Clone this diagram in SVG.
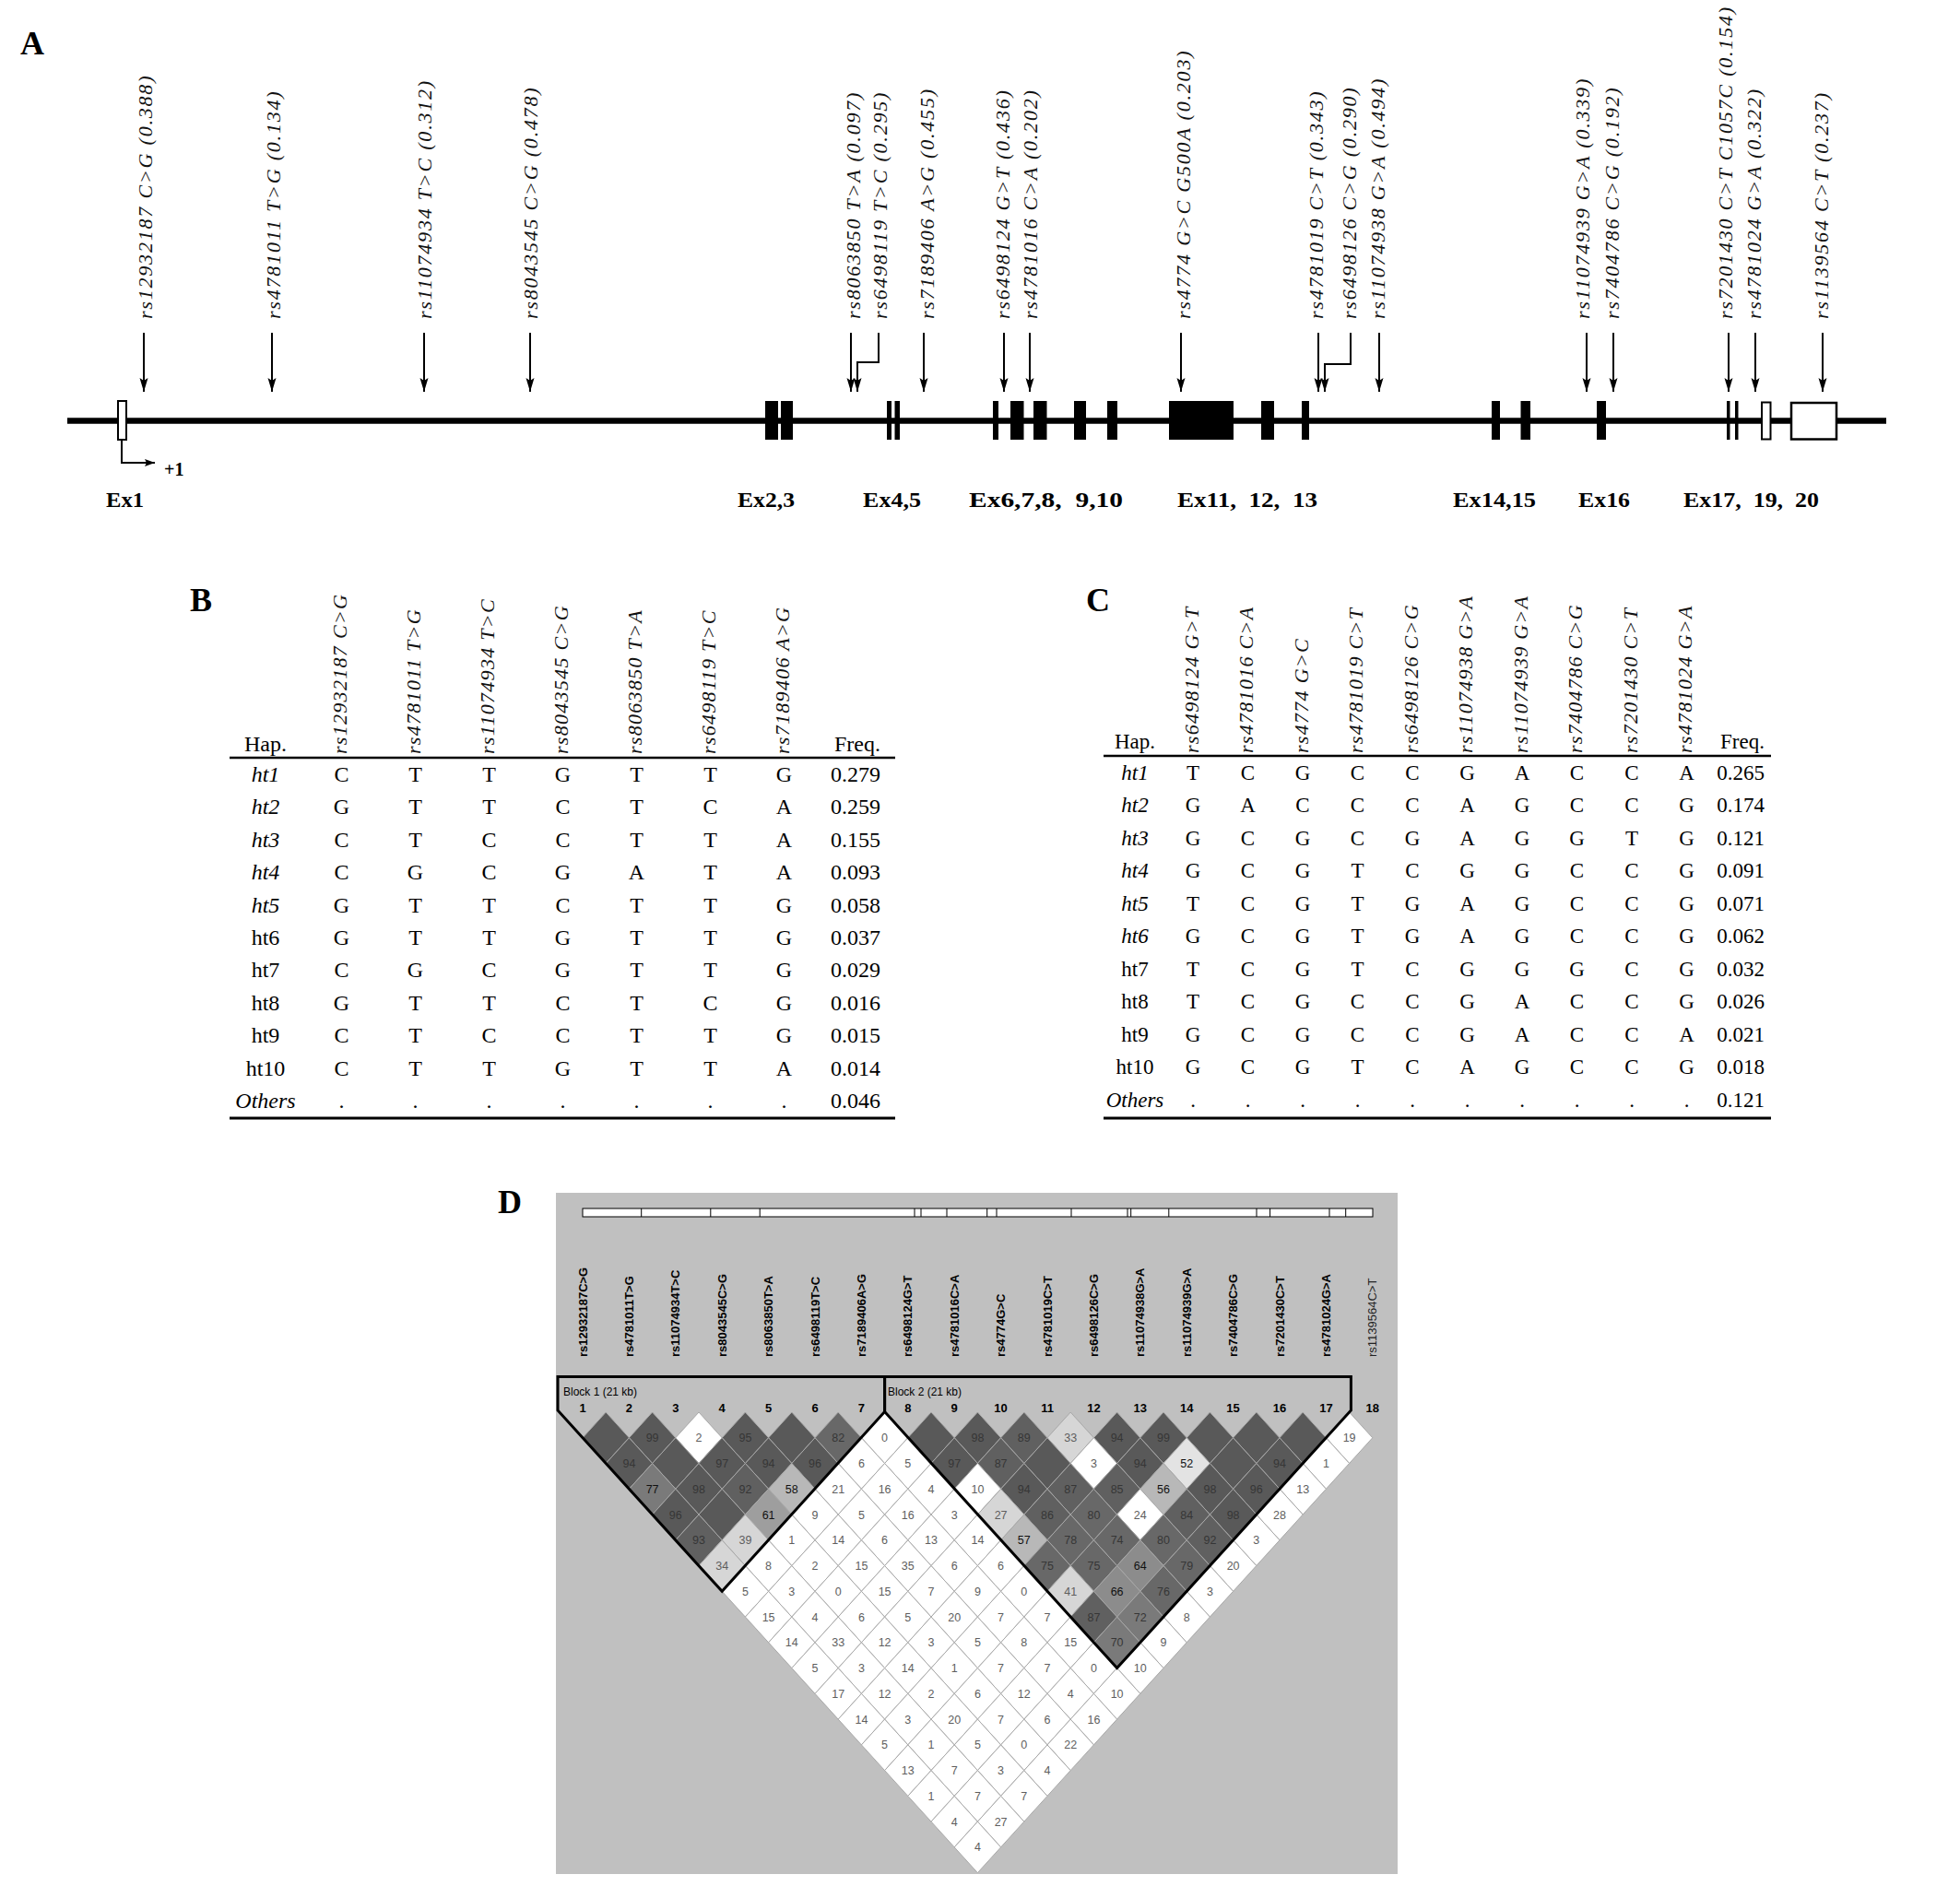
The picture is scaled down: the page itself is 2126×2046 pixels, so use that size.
<svg xmlns="http://www.w3.org/2000/svg" width="2126" height="2046" viewBox="0 0 2126 2046">
<style>
.pl{font-family:"Liberation Serif","Times New Roman",serif;font-weight:bold;font-size:36px;fill:#000}
.ex{font-family:"Liberation Serif","Times New Roman",serif;font-weight:bold;font-size:23px;fill:#000}
.ita{font-family:"Liberation Serif","Times New Roman",serif;font-style:italic;font-size:22px;letter-spacing:1.8px;fill:#111}
.hdr{font-family:"Liberation Serif","Times New Roman",serif;font-style:italic;font-size:22px;letter-spacing:1.3px;fill:#111}
.tb{font-family:"Liberation Serif","Times New Roman",serif;font-size:24px;text-anchor:middle;fill:#000}
.tc{font-family:"Liberation Serif","Times New Roman",serif;font-size:23px;text-anchor:middle;fill:#000}
.it{font-style:italic}
.snp{font-family:"Liberation Sans",Arial,sans-serif;font-weight:bold;font-size:13px;fill:#000}
.num{font-family:"Liberation Sans",Arial,sans-serif;font-weight:bold;font-size:13px;text-anchor:middle;fill:#000}
.blk{font-family:"Liberation Sans",Arial,sans-serif;font-size:12px;fill:#000}
.ld{font-family:"Liberation Sans",Arial,sans-serif;font-size:12.5px;text-anchor:middle}
.tk{fill:#363636}.tm{fill:#111}.tw{fill:#5e5e5e}
.d0{fill:#595959}.d1{fill:#606060}.d2{fill:#686868}.d3{fill:#7a7a7a}.d4{fill:#8c8c8c}.d5{fill:#9e9e9e}.d6{fill:#b8b8b8}.d7{fill:#d6d6d6}.d8{fill:#e3e3e3}.w{fill:#ffffff}
.arr{stroke:#000;stroke-width:2;fill:none}
.rule{stroke:#000;fill:none}
</style>
<defs>
<marker id="ah" markerWidth="16" markerHeight="10" refX="15" refY="5" orient="auto" markerUnits="userSpaceOnUse"><path d="M0,0.5 L15,5 L0,9.5 L3,5 Z" fill="#000"/></marker>
<marker id="ah2" markerWidth="12" markerHeight="9" refX="11" refY="4.5" orient="auto" markerUnits="userSpaceOnUse"><path d="M0,0.5 L11,4.5 L0,8.5 L2,4.5 Z" fill="#000"/></marker>
<path id="dm" d="M-25.2,0L0,-27.76L25.2,0L0,27.76Z"/>
</defs>
<rect x="0" y="0" width="2126" height="2046" fill="#fff"/>

<!-- Panel letters -->
<text class="pl" x="22" y="59">A</text>
<text class="pl" x="206" y="663">B</text>
<text class="pl" x="1178" y="663">C</text>
<text class="pl" x="540" y="1316">D</text>

<!-- Panel A gene -->
<g id="gene">
<line x1="73" y1="456.5" x2="2046" y2="456.5" stroke="#000" stroke-width="6.5"/>
<rect x="128" y="435" width="9" height="42" fill="#fff" stroke="#000" stroke-width="2"/>
<rect x="830" y="435" width="14" height="42" fill="#000"/>
<rect x="847" y="435" width="13" height="42" fill="#000"/>
<rect x="962" y="435" width="5" height="42" fill="#000"/>
<rect x="970.5" y="435" width="5.5" height="42" fill="#000"/>
<rect x="1077" y="435" width="6" height="42" fill="#000"/>
<rect x="1096" y="435" width="14.5" height="42" fill="#000"/>
<rect x="1121" y="435" width="14.5" height="42" fill="#000"/>
<rect x="1165" y="435" width="13" height="42" fill="#000"/>
<rect x="1201" y="435" width="11" height="42" fill="#000"/>
<rect x="1268" y="435" width="70" height="42" fill="#000"/>
<rect x="1368" y="435" width="14" height="42" fill="#000"/>
<rect x="1412" y="435" width="8" height="42" fill="#000"/>
<rect x="1618" y="435" width="9" height="42" fill="#000"/>
<rect x="1649.5" y="435" width="10.5" height="42" fill="#000"/>
<rect x="1732" y="435" width="10" height="42" fill="#000"/>
<rect x="1873" y="435" width="3.5" height="42" fill="#000"/>
<rect x="1882" y="435" width="3.5" height="42" fill="#000"/>
<rect x="1911" y="436.5" width="9.5" height="40" fill="#fff" stroke="#000" stroke-width="2"/>
<rect x="1943" y="437" width="49" height="39.5" fill="#fff" stroke="#000" stroke-width="2.5"/>
<text class="pl" x="178" y="516" style="font-size:20px">+1</text>
<text class="ex" x="115" y="550" textLength="41" lengthAdjust="spacingAndGlyphs">Ex1</text>
<text class="ex" x="800" y="550" textLength="62" lengthAdjust="spacingAndGlyphs">Ex2,3</text>
<text class="ex" x="936" y="550" textLength="63" lengthAdjust="spacingAndGlyphs">Ex4,5</text>
<text class="ex" x="1051" y="550" textLength="167" lengthAdjust="spacingAndGlyphs">Ex6,7,8, &#160;9,10</text>
<text class="ex" x="1277" y="550" textLength="152" lengthAdjust="spacingAndGlyphs">Ex11, &#160;12, &#160;13</text>
<text class="ex" x="1576" y="550" textLength="90" lengthAdjust="spacingAndGlyphs">Ex14,15</text>
<text class="ex" x="1712" y="550" textLength="56" lengthAdjust="spacingAndGlyphs">Ex16</text>
<text class="ex" x="1826" y="550" textLength="147" lengthAdjust="spacingAndGlyphs">Ex17, &#160;19, &#160;20</text>
</g>

<g id="snp-labels-A">
<text class="ita" transform="translate(165,346) rotate(-90)">rs12932187 C&gt;G (0.388)</text>
<text class="ita" transform="translate(304,346) rotate(-90)">rs4781011 T&gt;G (0.134)</text>
<text class="ita" transform="translate(468,346) rotate(-90)">rs11074934 T&gt;C (0.312)</text>
<text class="ita" transform="translate(583,346) rotate(-90)">rs8043545 C&gt;G (0.478)</text>
<text class="ita" transform="translate(933,346) rotate(-90)">rs8063850 T&gt;A (0.097)</text>
<text class="ita" transform="translate(962,346) rotate(-90)">rs6498119 T&gt;C (0.295)</text>
<text class="ita" transform="translate(1013,346) rotate(-90)">rs7189406 A&gt;G (0.455)</text>
<text class="ita" transform="translate(1095,346) rotate(-90)">rs6498124 G&gt;T (0.436)</text>
<text class="ita" transform="translate(1125,346) rotate(-90)">rs4781016 C&gt;A (0.202)</text>
<text class="ita" transform="translate(1291,346) rotate(-90)">rs4774 G&gt;C G500A (0.203)</text>
<text class="ita" transform="translate(1435,346) rotate(-90)">rs4781019 C&gt;T (0.343)</text>
<text class="ita" transform="translate(1471,346) rotate(-90)">rs6498126 C&gt;G (0.290)</text>
<text class="ita" transform="translate(1502,346) rotate(-90)">rs11074938 G&gt;A (0.494)</text>
<text class="ita" transform="translate(1724,346) rotate(-90)">rs11074939 G&gt;A (0.339)</text>
<text class="ita" transform="translate(1756,346) rotate(-90)">rs7404786 C&gt;G (0.192)</text>
<text class="ita" transform="translate(1879,346) rotate(-90)">rs7201430 C&gt;T C1057C (0.154)</text>
<text class="ita" transform="translate(1910,346) rotate(-90)">rs4781024 G&gt;A (0.322)</text>
<text class="ita" transform="translate(1983,346) rotate(-90)">rs1139564 C&gt;T (0.237)</text>
</g>

<g id="connectors">
<path class="arr" d="M132,477 V502 H168" marker-end="url(#ah2)"/>
<line class="arr" x1="156" y1="361" x2="156" y2="425" marker-end="url(#ah)"/>
<line class="arr" x1="295" y1="361" x2="295" y2="425" marker-end="url(#ah)"/>
<line class="arr" x1="460" y1="361" x2="460" y2="425" marker-end="url(#ah)"/>
<line class="arr" x1="575" y1="361" x2="575" y2="425" marker-end="url(#ah)"/>
<line class="arr" x1="923" y1="361" x2="923" y2="425" marker-end="url(#ah)"/>
<path class="arr" d="M953,361 V393 H930 V425" marker-end="url(#ah)"/>
<line class="arr" x1="1002" y1="361" x2="1002" y2="425" marker-end="url(#ah)"/>
<line class="arr" x1="1089" y1="361" x2="1089" y2="425" marker-end="url(#ah)"/>
<line class="arr" x1="1117" y1="361" x2="1117" y2="425" marker-end="url(#ah)"/>
<line class="arr" x1="1281" y1="361" x2="1281" y2="425" marker-end="url(#ah)"/>
<line class="arr" x1="1430" y1="361" x2="1430" y2="425" marker-end="url(#ah)"/>
<path class="arr" d="M1465,361 V395 H1437 V425" marker-end="url(#ah)"/>
<line class="arr" x1="1496" y1="361" x2="1496" y2="425" marker-end="url(#ah)"/>
<line class="arr" x1="1721" y1="361" x2="1721" y2="425" marker-end="url(#ah)"/>
<line class="arr" x1="1750" y1="361" x2="1750" y2="425" marker-end="url(#ah)"/>
<line class="arr" x1="1875" y1="361" x2="1875" y2="425" marker-end="url(#ah)"/>
<line class="arr" x1="1904" y1="361" x2="1904" y2="425" marker-end="url(#ah)"/>
<line class="arr" x1="1977" y1="361" x2="1977" y2="425" marker-end="url(#ah)"/>
<g stroke="#4a4a4a" stroke-width="1">
<line x1="632.3" y1="1320" x2="632" y2="1366"/>
<line x1="695.7" y1="1320" x2="682.4" y2="1366"/>
<line x1="770.8" y1="1320" x2="732.8" y2="1366"/>
<line x1="824.2" y1="1320" x2="783.2" y2="1366"/>
<line x1="992" y1="1320" x2="833.6" y2="1366"/>
<line x1="999" y1="1320" x2="884" y2="1366"/>
<line x1="1027" y1="1320" x2="934.4" y2="1366"/>
<line x1="1070.7" y1="1320" x2="984.8" y2="1366"/>
<line x1="1081" y1="1320" x2="1035.2" y2="1366"/>
<line x1="1162" y1="1320" x2="1085.6" y2="1366"/>
<line x1="1223" y1="1320" x2="1136" y2="1366"/>
<line x1="1226.7" y1="1320" x2="1186.4" y2="1366"/>
<line x1="1267.8" y1="1320" x2="1236.8" y2="1366"/>
<line x1="1363" y1="1320" x2="1287.2" y2="1366"/>
<line x1="1377.6" y1="1320" x2="1337.6" y2="1366"/>
<line x1="1442" y1="1320" x2="1388" y2="1366"/>
<line x1="1459.7" y1="1320" x2="1438.4" y2="1366"/>
<line x1="1489" y1="1320" x2="1488.8" y2="1366"/>
</g>
</g>

<!-- Panel B table -->
<g id="tableB">
<text class="tb" x="288" y="815">Hap.</text>
<text class="tb" x="930" y="815">Freq.</text>
<text class="hdr" transform="translate(376,818) rotate(-90)">rs12932187 C&gt;G</text>
<text class="hdr" transform="translate(456,818) rotate(-90)">rs4781011 T&gt;G</text>
<text class="hdr" transform="translate(536,818) rotate(-90)">rs11074934 T&gt;C</text>
<text class="hdr" transform="translate(616,818) rotate(-90)">rs8043545 C&gt;G</text>
<text class="hdr" transform="translate(696,818) rotate(-90)">rs8063850 T&gt;A</text>
<text class="hdr" transform="translate(776,818) rotate(-90)">rs6498119 T&gt;C</text>
<text class="hdr" transform="translate(856,818) rotate(-90)">rs7189406 A&gt;G</text>
<line class="rule" x1="249" y1="822" x2="971" y2="822" stroke-width="2.5"/>
<line class="rule" x1="249" y1="1213" x2="971" y2="1213" stroke-width="3"/>
<text class="tb it" x="288" y="848">ht1</text><text class="tb" x="370.5" y="848">C</text><text class="tb" x="450.5" y="848">T</text><text class="tb" x="530.5" y="848">T</text><text class="tb" x="610.5" y="848">G</text><text class="tb" x="690.5" y="848">T</text><text class="tb" x="770.5" y="848">T</text><text class="tb" x="850.5" y="848">G</text><text class="tb" x="928" y="848">0.279</text>
<text class="tb it" x="288" y="883.4">ht2</text><text class="tb" x="370.5" y="883.4">G</text><text class="tb" x="450.5" y="883.4">T</text><text class="tb" x="530.5" y="883.4">T</text><text class="tb" x="610.5" y="883.4">C</text><text class="tb" x="690.5" y="883.4">T</text><text class="tb" x="770.5" y="883.4">C</text><text class="tb" x="850.5" y="883.4">A</text><text class="tb" x="928" y="883.4">0.259</text>
<text class="tb it" x="288" y="918.8">ht3</text><text class="tb" x="370.5" y="918.8">C</text><text class="tb" x="450.5" y="918.8">T</text><text class="tb" x="530.5" y="918.8">C</text><text class="tb" x="610.5" y="918.8">C</text><text class="tb" x="690.5" y="918.8">T</text><text class="tb" x="770.5" y="918.8">T</text><text class="tb" x="850.5" y="918.8">A</text><text class="tb" x="928" y="918.8">0.155</text>
<text class="tb it" x="288" y="954.2">ht4</text><text class="tb" x="370.5" y="954.2">C</text><text class="tb" x="450.5" y="954.2">G</text><text class="tb" x="530.5" y="954.2">C</text><text class="tb" x="610.5" y="954.2">G</text><text class="tb" x="690.5" y="954.2">A</text><text class="tb" x="770.5" y="954.2">T</text><text class="tb" x="850.5" y="954.2">A</text><text class="tb" x="928" y="954.2">0.093</text>
<text class="tb it" x="288" y="989.6">ht5</text><text class="tb" x="370.5" y="989.6">G</text><text class="tb" x="450.5" y="989.6">T</text><text class="tb" x="530.5" y="989.6">T</text><text class="tb" x="610.5" y="989.6">C</text><text class="tb" x="690.5" y="989.6">T</text><text class="tb" x="770.5" y="989.6">T</text><text class="tb" x="850.5" y="989.6">G</text><text class="tb" x="928" y="989.6">0.058</text>
<text class="tb" x="288" y="1025">ht6</text><text class="tb" x="370.5" y="1025">G</text><text class="tb" x="450.5" y="1025">T</text><text class="tb" x="530.5" y="1025">T</text><text class="tb" x="610.5" y="1025">G</text><text class="tb" x="690.5" y="1025">T</text><text class="tb" x="770.5" y="1025">T</text><text class="tb" x="850.5" y="1025">G</text><text class="tb" x="928" y="1025">0.037</text>
<text class="tb" x="288" y="1060.4">ht7</text><text class="tb" x="370.5" y="1060.4">C</text><text class="tb" x="450.5" y="1060.4">G</text><text class="tb" x="530.5" y="1060.4">C</text><text class="tb" x="610.5" y="1060.4">G</text><text class="tb" x="690.5" y="1060.4">T</text><text class="tb" x="770.5" y="1060.4">T</text><text class="tb" x="850.5" y="1060.4">G</text><text class="tb" x="928" y="1060.4">0.029</text>
<text class="tb" x="288" y="1095.8">ht8</text><text class="tb" x="370.5" y="1095.8">G</text><text class="tb" x="450.5" y="1095.8">T</text><text class="tb" x="530.5" y="1095.8">T</text><text class="tb" x="610.5" y="1095.8">C</text><text class="tb" x="690.5" y="1095.8">T</text><text class="tb" x="770.5" y="1095.8">C</text><text class="tb" x="850.5" y="1095.8">G</text><text class="tb" x="928" y="1095.8">0.016</text>
<text class="tb" x="288" y="1131.2">ht9</text><text class="tb" x="370.5" y="1131.2">C</text><text class="tb" x="450.5" y="1131.2">T</text><text class="tb" x="530.5" y="1131.2">C</text><text class="tb" x="610.5" y="1131.2">C</text><text class="tb" x="690.5" y="1131.2">T</text><text class="tb" x="770.5" y="1131.2">T</text><text class="tb" x="850.5" y="1131.2">G</text><text class="tb" x="928" y="1131.2">0.015</text>
<text class="tb" x="288" y="1166.6">ht10</text><text class="tb" x="370.5" y="1166.6">C</text><text class="tb" x="450.5" y="1166.6">T</text><text class="tb" x="530.5" y="1166.6">T</text><text class="tb" x="610.5" y="1166.6">G</text><text class="tb" x="690.5" y="1166.6">T</text><text class="tb" x="770.5" y="1166.6">T</text><text class="tb" x="850.5" y="1166.6">A</text><text class="tb" x="928" y="1166.6">0.014</text>
<text class="tb it" x="288" y="1202">Others</text><text class="tb" x="370.5" y="1202">.</text><text class="tb" x="450.5" y="1202">.</text><text class="tb" x="530.5" y="1202">.</text><text class="tb" x="610.5" y="1202">.</text><text class="tb" x="690.5" y="1202">.</text><text class="tb" x="770.5" y="1202">.</text><text class="tb" x="850.5" y="1202">.</text><text class="tb" x="928" y="1202">0.046</text>
</g>

<!-- Panel C table -->
<g id="tableC">
<text class="tc" x="1231" y="812">Hap.</text>
<text class="tc" x="1890" y="812">Freq.</text>
<text class="hdr" transform="translate(1299.5,817) rotate(-90)">rs6498124 G&gt;T</text>
<text class="hdr" transform="translate(1359,817) rotate(-90)">rs4781016 C&gt;A</text>
<text class="hdr" transform="translate(1418.5,817) rotate(-90)">rs4774 G&gt;C</text>
<text class="hdr" transform="translate(1478,817) rotate(-90)">rs4781019 C&gt;T</text>
<text class="hdr" transform="translate(1537.5,817) rotate(-90)">rs6498126 C&gt;G</text>
<text class="hdr" transform="translate(1597,817) rotate(-90)">rs11074938 G&gt;A</text>
<text class="hdr" transform="translate(1656.5,817) rotate(-90)">rs11074939 G&gt;A</text>
<text class="hdr" transform="translate(1716,817) rotate(-90)">rs7404786 C&gt;G</text>
<text class="hdr" transform="translate(1775.5,817) rotate(-90)">rs7201430 C&gt;T</text>
<text class="hdr" transform="translate(1835,817) rotate(-90)">rs4781024 G&gt;A</text>
<line class="rule" x1="1197" y1="820" x2="1921" y2="820" stroke-width="2.5"/>
<line class="rule" x1="1197" y1="1213" x2="1921" y2="1213" stroke-width="3"/>
<text class="tc it" x="1231" y="845.5">ht1</text><text class="tc" x="1294" y="845.5">T</text><text class="tc" x="1353.5" y="845.5">C</text><text class="tc" x="1413" y="845.5">G</text><text class="tc" x="1472.5" y="845.5">C</text><text class="tc" x="1532" y="845.5">C</text><text class="tc" x="1591.5" y="845.5">G</text><text class="tc" x="1651" y="845.5">A</text><text class="tc" x="1710.5" y="845.5">C</text><text class="tc" x="1770" y="845.5">C</text><text class="tc" x="1829.5" y="845.5">A</text><text class="tc" x="1888" y="845.5">0.265</text>
<text class="tc it" x="1231" y="881">ht2</text><text class="tc" x="1294" y="881">G</text><text class="tc" x="1353.5" y="881">A</text><text class="tc" x="1413" y="881">C</text><text class="tc" x="1472.5" y="881">C</text><text class="tc" x="1532" y="881">C</text><text class="tc" x="1591.5" y="881">A</text><text class="tc" x="1651" y="881">G</text><text class="tc" x="1710.5" y="881">C</text><text class="tc" x="1770" y="881">C</text><text class="tc" x="1829.5" y="881">G</text><text class="tc" x="1888" y="881">0.174</text>
<text class="tc it" x="1231" y="916.5">ht3</text><text class="tc" x="1294" y="916.5">G</text><text class="tc" x="1353.5" y="916.5">C</text><text class="tc" x="1413" y="916.5">G</text><text class="tc" x="1472.5" y="916.5">C</text><text class="tc" x="1532" y="916.5">G</text><text class="tc" x="1591.5" y="916.5">A</text><text class="tc" x="1651" y="916.5">G</text><text class="tc" x="1710.5" y="916.5">G</text><text class="tc" x="1770" y="916.5">T</text><text class="tc" x="1829.5" y="916.5">G</text><text class="tc" x="1888" y="916.5">0.121</text>
<text class="tc it" x="1231" y="952">ht4</text><text class="tc" x="1294" y="952">G</text><text class="tc" x="1353.5" y="952">C</text><text class="tc" x="1413" y="952">G</text><text class="tc" x="1472.5" y="952">T</text><text class="tc" x="1532" y="952">C</text><text class="tc" x="1591.5" y="952">G</text><text class="tc" x="1651" y="952">G</text><text class="tc" x="1710.5" y="952">C</text><text class="tc" x="1770" y="952">C</text><text class="tc" x="1829.5" y="952">G</text><text class="tc" x="1888" y="952">0.091</text>
<text class="tc it" x="1231" y="987.5">ht5</text><text class="tc" x="1294" y="987.5">T</text><text class="tc" x="1353.5" y="987.5">C</text><text class="tc" x="1413" y="987.5">G</text><text class="tc" x="1472.5" y="987.5">T</text><text class="tc" x="1532" y="987.5">G</text><text class="tc" x="1591.5" y="987.5">A</text><text class="tc" x="1651" y="987.5">G</text><text class="tc" x="1710.5" y="987.5">C</text><text class="tc" x="1770" y="987.5">C</text><text class="tc" x="1829.5" y="987.5">G</text><text class="tc" x="1888" y="987.5">0.071</text>
<text class="tc it" x="1231" y="1023">ht6</text><text class="tc" x="1294" y="1023">G</text><text class="tc" x="1353.5" y="1023">C</text><text class="tc" x="1413" y="1023">G</text><text class="tc" x="1472.5" y="1023">T</text><text class="tc" x="1532" y="1023">G</text><text class="tc" x="1591.5" y="1023">A</text><text class="tc" x="1651" y="1023">G</text><text class="tc" x="1710.5" y="1023">C</text><text class="tc" x="1770" y="1023">C</text><text class="tc" x="1829.5" y="1023">G</text><text class="tc" x="1888" y="1023">0.062</text>
<text class="tc" x="1231" y="1058.5">ht7</text><text class="tc" x="1294" y="1058.5">T</text><text class="tc" x="1353.5" y="1058.5">C</text><text class="tc" x="1413" y="1058.5">G</text><text class="tc" x="1472.5" y="1058.5">T</text><text class="tc" x="1532" y="1058.5">C</text><text class="tc" x="1591.5" y="1058.5">G</text><text class="tc" x="1651" y="1058.5">G</text><text class="tc" x="1710.5" y="1058.5">G</text><text class="tc" x="1770" y="1058.5">C</text><text class="tc" x="1829.5" y="1058.5">G</text><text class="tc" x="1888" y="1058.5">0.032</text>
<text class="tc" x="1231" y="1094">ht8</text><text class="tc" x="1294" y="1094">T</text><text class="tc" x="1353.5" y="1094">C</text><text class="tc" x="1413" y="1094">G</text><text class="tc" x="1472.5" y="1094">C</text><text class="tc" x="1532" y="1094">C</text><text class="tc" x="1591.5" y="1094">G</text><text class="tc" x="1651" y="1094">A</text><text class="tc" x="1710.5" y="1094">C</text><text class="tc" x="1770" y="1094">C</text><text class="tc" x="1829.5" y="1094">G</text><text class="tc" x="1888" y="1094">0.026</text>
<text class="tc" x="1231" y="1129.5">ht9</text><text class="tc" x="1294" y="1129.5">G</text><text class="tc" x="1353.5" y="1129.5">C</text><text class="tc" x="1413" y="1129.5">G</text><text class="tc" x="1472.5" y="1129.5">C</text><text class="tc" x="1532" y="1129.5">C</text><text class="tc" x="1591.5" y="1129.5">G</text><text class="tc" x="1651" y="1129.5">A</text><text class="tc" x="1710.5" y="1129.5">C</text><text class="tc" x="1770" y="1129.5">C</text><text class="tc" x="1829.5" y="1129.5">A</text><text class="tc" x="1888" y="1129.5">0.021</text>
<text class="tc" x="1231" y="1165">ht10</text><text class="tc" x="1294" y="1165">G</text><text class="tc" x="1353.5" y="1165">C</text><text class="tc" x="1413" y="1165">G</text><text class="tc" x="1472.5" y="1165">T</text><text class="tc" x="1532" y="1165">C</text><text class="tc" x="1591.5" y="1165">A</text><text class="tc" x="1651" y="1165">G</text><text class="tc" x="1710.5" y="1165">C</text><text class="tc" x="1770" y="1165">C</text><text class="tc" x="1829.5" y="1165">G</text><text class="tc" x="1888" y="1165">0.018</text>
<text class="tc it" x="1231" y="1200.5">Others</text><text class="tc" x="1294" y="1200.5">.</text><text class="tc" x="1353.5" y="1200.5">.</text><text class="tc" x="1413" y="1200.5">.</text><text class="tc" x="1472.5" y="1200.5">.</text><text class="tc" x="1532" y="1200.5">.</text><text class="tc" x="1591.5" y="1200.5">.</text><text class="tc" x="1651" y="1200.5">.</text><text class="tc" x="1710.5" y="1200.5">.</text><text class="tc" x="1770" y="1200.5">.</text><text class="tc" x="1829.5" y="1200.5">.</text><text class="tc" x="1888" y="1200.5">0.121</text>
</g>

<!-- Panel D -->
<rect x="603" y="1294" width="913" height="739" fill="#c0c0c0"/>
<g id="ld-bar">
<rect x="632" y="1311" width="857" height="9" fill="#fff" stroke="#000" stroke-width="1"/>
<g stroke="#000" stroke-width="1">
<line x1="695.7" y1="1311" x2="695.7" y2="1320"/><line x1="770.8" y1="1311" x2="770.8" y2="1320"/><line x1="824.2" y1="1311" x2="824.2" y2="1320"/><line x1="992" y1="1311" x2="992" y2="1320"/><line x1="999" y1="1311" x2="999" y2="1320"/><line x1="1027" y1="1311" x2="1027" y2="1320"/><line x1="1070.7" y1="1311" x2="1070.7" y2="1320"/><line x1="1081" y1="1311" x2="1081" y2="1320"/><line x1="1162" y1="1311" x2="1162" y2="1320"/><line x1="1223" y1="1311" x2="1223" y2="1320"/><line x1="1226.7" y1="1311" x2="1226.7" y2="1320"/><line x1="1267.8" y1="1311" x2="1267.8" y2="1320"/><line x1="1363" y1="1311" x2="1363" y2="1320"/><line x1="1377.6" y1="1311" x2="1377.6" y2="1320"/><line x1="1442" y1="1311" x2="1442" y2="1320"/><line x1="1459.7" y1="1311" x2="1459.7" y2="1320"/>
</g>
</g>
<g id="ld-snp-labels">
<text class="snp" transform="translate(636.5,1472) rotate(-90)">rs12932187C&gt;G</text>
<text class="snp" transform="translate(686.9,1472) rotate(-90)">rs4781011T&gt;G</text>
<text class="snp" transform="translate(737.3,1472) rotate(-90)">rs11074934T&gt;C</text>
<text class="snp" transform="translate(787.7,1472) rotate(-90)">rs8043545C&gt;G</text>
<text class="snp" transform="translate(838.1,1472) rotate(-90)">rs8063850T&gt;A</text>
<text class="snp" transform="translate(888.5,1472) rotate(-90)">rs6498119T&gt;C</text>
<text class="snp" transform="translate(938.9,1472) rotate(-90)">rs7189406A&gt;G</text>
<text class="snp" transform="translate(989.3,1472) rotate(-90)">rs6498124G&gt;T</text>
<text class="snp" transform="translate(1039.7,1472) rotate(-90)">rs4781016C&gt;A</text>
<text class="snp" transform="translate(1090.1,1472) rotate(-90)">rs4774G&gt;C</text>
<text class="snp" transform="translate(1140.5,1472) rotate(-90)">rs4781019C&gt;T</text>
<text class="snp" transform="translate(1190.9,1472) rotate(-90)">rs6498126C&gt;G</text>
<text class="snp" transform="translate(1241.3,1472) rotate(-90)">rs11074938G&gt;A</text>
<text class="snp" transform="translate(1291.7,1472) rotate(-90)">rs11074939G&gt;A</text>
<text class="snp" transform="translate(1342.1,1472) rotate(-90)">rs7404786C&gt;G</text>
<text class="snp" transform="translate(1392.5,1472) rotate(-90)">rs7201430C&gt;T</text>
<text class="snp" transform="translate(1442.9,1472) rotate(-90)">rs4781024G&gt;A</text>
<text class="snp" transform="translate(1493.3,1472) rotate(-90)" style="font-weight:normal;fill:#222">rs1139564C&gt;T</text>
</g>
<g id="ld-numbers">
<text class="num" x="632" y="1532">1</text><text class="num" x="682.4" y="1532">2</text><text class="num" x="732.8" y="1532">3</text><text class="num" x="783.2" y="1532">4</text><text class="num" x="833.6" y="1532">5</text><text class="num" x="884" y="1532">6</text><text class="num" x="934.4" y="1532">7</text><text class="num" x="984.8" y="1532">8</text><text class="num" x="1035.2" y="1532">9</text><text class="num" x="1085.6" y="1532">10</text><text class="num" x="1136" y="1532">11</text><text class="num" x="1186.4" y="1532">12</text><text class="num" x="1236.8" y="1532">13</text><text class="num" x="1287.2" y="1532">14</text><text class="num" x="1337.6" y="1532">15</text><text class="num" x="1388" y="1532">16</text><text class="num" x="1438.4" y="1532">17</text><text class="num" x="1488.8" y="1532">18</text>
<text class="blk" x="611" y="1513.5">Block 1 (21 kb)</text>
<text class="blk" x="963" y="1513.5">Block 2 (21 kb)</text>
</g>
<g id="ld-cells" stroke="#a8a8a8" stroke-width="1">
<!-- row 1 -->
<use href="#dm" x="657.2" y="1559.76" class="d0"/><use href="#dm" x="707.6" y="1559.76" class="d0"/><use href="#dm" x="758" y="1559.76" class="w"/><use href="#dm" x="808.4" y="1559.76" class="d0"/><use href="#dm" x="858.8" y="1559.76" class="d0"/><use href="#dm" x="909.2" y="1559.76" class="d2"/><use href="#dm" x="959.6" y="1559.76" class="w"/><use href="#dm" x="1010" y="1559.76" class="d0"/><use href="#dm" x="1060.4" y="1559.76" class="d0"/><use href="#dm" x="1110.8" y="1559.76" class="d1"/><use href="#dm" x="1161.2" y="1559.76" class="d7"/><use href="#dm" x="1211.6" y="1559.76" class="d0"/><use href="#dm" x="1262" y="1559.76" class="d0"/><use href="#dm" x="1312.4" y="1559.76" class="d0"/><use href="#dm" x="1362.8" y="1559.76" class="d0"/><use href="#dm" x="1413.2" y="1559.76" class="d0"/><use href="#dm" x="1463.6" y="1559.76" class="w"/>
<!-- row 2 -->
<use href="#dm" x="682.4" y="1587.52" class="d0"/><use href="#dm" x="732.8" y="1587.52" class="d0"/><use href="#dm" x="783.2" y="1587.52" class="d0"/><use href="#dm" x="833.6" y="1587.52" class="d0"/><use href="#dm" x="884" y="1587.52" class="d0"/><use href="#dm" x="934.4" y="1587.52" class="w"/><use href="#dm" x="984.8" y="1587.52" class="w"/><use href="#dm" x="1035.2" y="1587.52" class="d0"/><use href="#dm" x="1085.6" y="1587.52" class="d1"/><use href="#dm" x="1136" y="1587.52" class="d0"/><use href="#dm" x="1186.4" y="1587.52" class="w"/><use href="#dm" x="1236.8" y="1587.52" class="d0"/><use href="#dm" x="1287.2" y="1587.52" class="d8"/><use href="#dm" x="1337.6" y="1587.52" class="d0"/><use href="#dm" x="1388" y="1587.52" class="d0"/><use href="#dm" x="1438.4" y="1587.52" class="w"/>
<!-- row 3 -->
<use href="#dm" x="707.6" y="1615.28" class="d3"/><use href="#dm" x="758" y="1615.28" class="d0"/><use href="#dm" x="808.4" y="1615.28" class="d1"/><use href="#dm" x="858.8" y="1615.28" class="d6"/><use href="#dm" x="909.2" y="1615.28" class="w"/><use href="#dm" x="959.6" y="1615.28" class="w"/><use href="#dm" x="1010" y="1615.28" class="w"/><use href="#dm" x="1060.4" y="1615.28" class="w"/><use href="#dm" x="1110.8" y="1615.28" class="d0"/><use href="#dm" x="1161.2" y="1615.28" class="d1"/><use href="#dm" x="1211.6" y="1615.28" class="d1"/><use href="#dm" x="1262" y="1615.28" class="d6"/><use href="#dm" x="1312.4" y="1615.28" class="d0"/><use href="#dm" x="1362.8" y="1615.28" class="d0"/><use href="#dm" x="1413.2" y="1615.28" class="w"/>
<!-- row 4 -->
<use href="#dm" x="732.8" y="1643.04" class="d0"/><use href="#dm" x="783.2" y="1643.04" class="d0"/><use href="#dm" x="833.6" y="1643.04" class="d5"/><use href="#dm" x="884" y="1643.04" class="w"/><use href="#dm" x="934.4" y="1643.04" class="w"/><use href="#dm" x="984.8" y="1643.04" class="w"/><use href="#dm" x="1035.2" y="1643.04" class="w"/><use href="#dm" x="1085.6" y="1643.04" class="d7"/><use href="#dm" x="1136" y="1643.04" class="d1"/><use href="#dm" x="1186.4" y="1643.04" class="d2"/><use href="#dm" x="1236.8" y="1643.04" class="w"/><use href="#dm" x="1287.2" y="1643.04" class="d1"/><use href="#dm" x="1337.6" y="1643.04" class="d0"/><use href="#dm" x="1388" y="1643.04" class="w"/>
<!-- row 5 -->
<use href="#dm" x="758" y="1670.8" class="d1"/><use href="#dm" x="808.4" y="1670.8" class="d7"/><use href="#dm" x="858.8" y="1670.8" class="w"/><use href="#dm" x="909.2" y="1670.8" class="w"/><use href="#dm" x="959.6" y="1670.8" class="w"/><use href="#dm" x="1010" y="1670.8" class="w"/><use href="#dm" x="1060.4" y="1670.8" class="w"/><use href="#dm" x="1110.8" y="1670.8" class="d6"/><use href="#dm" x="1161.2" y="1670.8" class="d2"/><use href="#dm" x="1211.6" y="1670.8" class="d2"/><use href="#dm" x="1262" y="1670.8" class="d2"/><use href="#dm" x="1312.4" y="1670.8" class="d1"/><use href="#dm" x="1362.8" y="1670.8" class="w"/>
<!-- row 6 -->
<use href="#dm" x="783.2" y="1698.56" class="d7"/><use href="#dm" x="833.6" y="1698.56" class="w"/><use href="#dm" x="884" y="1698.56" class="w"/><use href="#dm" x="934.4" y="1698.56" class="w"/><use href="#dm" x="984.8" y="1698.56" class="w"/><use href="#dm" x="1035.2" y="1698.56" class="w"/><use href="#dm" x="1085.6" y="1698.56" class="w"/><use href="#dm" x="1136" y="1698.56" class="d2"/><use href="#dm" x="1186.4" y="1698.56" class="d2"/><use href="#dm" x="1236.8" y="1698.56" class="d4"/><use href="#dm" x="1287.2" y="1698.56" class="d2"/><use href="#dm" x="1337.6" y="1698.56" class="w"/>
<!-- row 7 -->
<use href="#dm" x="808.4" y="1726.32" class="w"/><use href="#dm" x="858.8" y="1726.32" class="w"/><use href="#dm" x="909.2" y="1726.32" class="w"/><use href="#dm" x="959.6" y="1726.32" class="w"/><use href="#dm" x="1010" y="1726.32" class="w"/><use href="#dm" x="1060.4" y="1726.32" class="w"/><use href="#dm" x="1110.8" y="1726.32" class="w"/><use href="#dm" x="1161.2" y="1726.32" class="d7"/><use href="#dm" x="1211.6" y="1726.32" class="d4"/><use href="#dm" x="1262" y="1726.32" class="d2"/><use href="#dm" x="1312.4" y="1726.32" class="w"/>
<!-- row 8 -->
<use href="#dm" x="833.6" y="1754.08" class="w"/><use href="#dm" x="884" y="1754.08" class="w"/><use href="#dm" x="934.4" y="1754.08" class="w"/><use href="#dm" x="984.8" y="1754.08" class="w"/><use href="#dm" x="1035.2" y="1754.08" class="w"/><use href="#dm" x="1085.6" y="1754.08" class="w"/><use href="#dm" x="1136" y="1754.08" class="w"/><use href="#dm" x="1186.4" y="1754.08" class="d1"/><use href="#dm" x="1236.8" y="1754.08" class="d3"/><use href="#dm" x="1287.2" y="1754.08" class="w"/>
<!-- row 9 -->
<use href="#dm" x="858.8" y="1781.84" class="w"/><use href="#dm" x="909.2" y="1781.84" class="w"/><use href="#dm" x="959.6" y="1781.84" class="w"/><use href="#dm" x="1010" y="1781.84" class="w"/><use href="#dm" x="1060.4" y="1781.84" class="w"/><use href="#dm" x="1110.8" y="1781.84" class="w"/><use href="#dm" x="1161.2" y="1781.84" class="w"/><use href="#dm" x="1211.6" y="1781.84" class="d3"/><use href="#dm" x="1262" y="1781.84" class="w"/>
<!-- rows 10-17 -->
<use href="#dm" x="884" y="1809.6" class="w"/><use href="#dm" x="934.4" y="1809.6" class="w"/><use href="#dm" x="984.8" y="1809.6" class="w"/><use href="#dm" x="1035.2" y="1809.6" class="w"/><use href="#dm" x="1085.6" y="1809.6" class="w"/><use href="#dm" x="1136" y="1809.6" class="w"/><use href="#dm" x="1186.4" y="1809.6" class="w"/><use href="#dm" x="1236.8" y="1809.6" class="w"/>
<use href="#dm" x="909.2" y="1837.36" class="w"/><use href="#dm" x="959.6" y="1837.36" class="w"/><use href="#dm" x="1010" y="1837.36" class="w"/><use href="#dm" x="1060.4" y="1837.36" class="w"/><use href="#dm" x="1110.8" y="1837.36" class="w"/><use href="#dm" x="1161.2" y="1837.36" class="w"/><use href="#dm" x="1211.6" y="1837.36" class="w"/>
<use href="#dm" x="934.4" y="1865.12" class="w"/><use href="#dm" x="984.8" y="1865.12" class="w"/><use href="#dm" x="1035.2" y="1865.12" class="w"/><use href="#dm" x="1085.6" y="1865.12" class="w"/><use href="#dm" x="1136" y="1865.12" class="w"/><use href="#dm" x="1186.4" y="1865.12" class="w"/>
<use href="#dm" x="959.6" y="1892.88" class="w"/><use href="#dm" x="1010" y="1892.88" class="w"/><use href="#dm" x="1060.4" y="1892.88" class="w"/><use href="#dm" x="1110.8" y="1892.88" class="w"/><use href="#dm" x="1161.2" y="1892.88" class="w"/>
<use href="#dm" x="984.8" y="1920.64" class="w"/><use href="#dm" x="1035.2" y="1920.64" class="w"/><use href="#dm" x="1085.6" y="1920.64" class="w"/><use href="#dm" x="1136" y="1920.64" class="w"/>
<use href="#dm" x="1010" y="1948.4" class="w"/><use href="#dm" x="1060.4" y="1948.4" class="w"/><use href="#dm" x="1110.8" y="1948.4" class="w"/>
<use href="#dm" x="1035.2" y="1976.16" class="w"/><use href="#dm" x="1085.6" y="1976.16" class="w"/>
<use href="#dm" x="1060.4" y="2003.92" class="w"/>
</g>
<g id="ld-values">
<text class="ld tk" x="707.6" y="1564.3">99</text><text class="ld tw" x="758" y="1564.3">2</text><text class="ld tk" x="808.4" y="1564.3">95</text><text class="ld tk" x="909.2" y="1564.3">82</text><text class="ld tw" x="959.6" y="1564.3">0</text><text class="ld tk" x="1060.4" y="1564.3">98</text><text class="ld tk" x="1110.8" y="1564.3">89</text><text class="ld tw" x="1161.2" y="1564.3">33</text><text class="ld tk" x="1211.6" y="1564.3">94</text><text class="ld tk" x="1262" y="1564.3">99</text><text class="ld tw" x="1463.6" y="1564.3">19</text>
<text class="ld tk" x="682.4" y="1592">94</text><text class="ld tk" x="783.2" y="1592">97</text><text class="ld tk" x="833.6" y="1592">94</text><text class="ld tk" x="884" y="1592">96</text><text class="ld tw" x="934.4" y="1592">6</text><text class="ld tw" x="984.8" y="1592">5</text><text class="ld tk" x="1035.2" y="1592">97</text><text class="ld tk" x="1085.6" y="1592">87</text><text class="ld tw" x="1186.4" y="1592">3</text><text class="ld tk" x="1236.8" y="1592">94</text><text class="ld tm" x="1287.2" y="1592">52</text><text class="ld tk" x="1388" y="1592">94</text><text class="ld tw" x="1438.4" y="1592">1</text>
<text class="ld tm" x="707.6" y="1619.8">77</text><text class="ld tk" x="758" y="1619.8">98</text><text class="ld tk" x="808.4" y="1619.8">92</text><text class="ld tm" x="858.8" y="1619.8">58</text><text class="ld tw" x="909.2" y="1619.8">21</text><text class="ld tw" x="959.6" y="1619.8">16</text><text class="ld tw" x="1010" y="1619.8">4</text><text class="ld tw" x="1060.4" y="1619.8">10</text><text class="ld tk" x="1110.8" y="1619.8">94</text><text class="ld tk" x="1161.2" y="1619.8">87</text><text class="ld tk" x="1211.6" y="1619.8">85</text><text class="ld tm" x="1262" y="1619.8">56</text><text class="ld tk" x="1312.4" y="1619.8">98</text><text class="ld tk" x="1362.8" y="1619.8">96</text><text class="ld tw" x="1413.2" y="1619.8">13</text>
<text class="ld tk" x="732.8" y="1647.5">96</text><text class="ld tm" x="833.6" y="1647.5">61</text><text class="ld tw" x="884" y="1647.5">9</text><text class="ld tw" x="934.4" y="1647.5">5</text><text class="ld tw" x="984.8" y="1647.5">16</text><text class="ld tw" x="1035.2" y="1647.5">3</text><text class="ld tw" x="1085.6" y="1647.5">27</text><text class="ld tk" x="1136" y="1647.5">86</text><text class="ld tk" x="1186.4" y="1647.5">80</text><text class="ld tw" x="1236.8" y="1647.5">24</text><text class="ld tk" x="1287.2" y="1647.5">84</text><text class="ld tk" x="1337.6" y="1647.5">98</text><text class="ld tw" x="1388" y="1647.5">28</text>
<text class="ld tk" x="758" y="1675.3">93</text><text class="ld tw" x="808.4" y="1675.3">39</text><text class="ld tw" x="858.8" y="1675.3">1</text><text class="ld tw" x="909.2" y="1675.3">14</text><text class="ld tw" x="959.6" y="1675.3">6</text><text class="ld tw" x="1010" y="1675.3">13</text><text class="ld tw" x="1060.4" y="1675.3">14</text><text class="ld tm" x="1110.8" y="1675.3">57</text><text class="ld tk" x="1161.2" y="1675.3">78</text><text class="ld tk" x="1211.6" y="1675.3">74</text><text class="ld tk" x="1262" y="1675.3">80</text><text class="ld tk" x="1312.4" y="1675.3">92</text><text class="ld tw" x="1362.8" y="1675.3">3</text>
<text class="ld tw" x="783.2" y="1703">34</text><text class="ld tw" x="833.6" y="1703">8</text><text class="ld tw" x="884" y="1703">2</text><text class="ld tw" x="934.4" y="1703">15</text><text class="ld tw" x="984.8" y="1703">35</text><text class="ld tw" x="1035.2" y="1703">6</text><text class="ld tw" x="1085.6" y="1703">6</text><text class="ld tk" x="1136" y="1703">75</text><text class="ld tk" x="1186.4" y="1703">75</text><text class="ld tm" x="1236.8" y="1703">64</text><text class="ld tk" x="1287.2" y="1703">79</text><text class="ld tw" x="1337.6" y="1703">20</text>
<text class="ld tw" x="808.4" y="1730.8">5</text><text class="ld tw" x="858.8" y="1730.8">3</text><text class="ld tw" x="909.2" y="1730.8">0</text><text class="ld tw" x="959.6" y="1730.8">15</text><text class="ld tw" x="1010" y="1730.8">7</text><text class="ld tw" x="1060.4" y="1730.8">9</text><text class="ld tw" x="1110.8" y="1730.8">0</text><text class="ld tw" x="1161.2" y="1730.8">41</text><text class="ld tm" x="1211.6" y="1730.8">66</text><text class="ld tk" x="1262" y="1730.8">76</text><text class="ld tw" x="1312.4" y="1730.8">3</text>
<text class="ld tw" x="833.6" y="1758.6">15</text><text class="ld tw" x="884" y="1758.6">4</text><text class="ld tw" x="934.4" y="1758.6">6</text><text class="ld tw" x="984.8" y="1758.6">5</text><text class="ld tw" x="1035.2" y="1758.6">20</text><text class="ld tw" x="1085.6" y="1758.6">7</text><text class="ld tw" x="1136" y="1758.6">7</text><text class="ld tk" x="1186.4" y="1758.6">87</text><text class="ld tk" x="1236.8" y="1758.6">72</text><text class="ld tw" x="1287.2" y="1758.6">8</text>
<text class="ld tw" x="858.8" y="1786.3">14</text><text class="ld tw" x="909.2" y="1786.3">33</text><text class="ld tw" x="959.6" y="1786.3">12</text><text class="ld tw" x="1010" y="1786.3">3</text><text class="ld tw" x="1060.4" y="1786.3">5</text><text class="ld tw" x="1110.8" y="1786.3">8</text><text class="ld tw" x="1161.2" y="1786.3">15</text><text class="ld tk" x="1211.6" y="1786.3">70</text><text class="ld tw" x="1262" y="1786.3">9</text>
<text class="ld tw" x="884" y="1814.1">5</text><text class="ld tw" x="934.4" y="1814.1">3</text><text class="ld tw" x="984.8" y="1814.1">14</text><text class="ld tw" x="1035.2" y="1814.1">1</text><text class="ld tw" x="1085.6" y="1814.1">7</text><text class="ld tw" x="1136" y="1814.1">7</text><text class="ld tw" x="1186.4" y="1814.1">0</text><text class="ld tw" x="1236.8" y="1814.1">10</text>
<text class="ld tw" x="909.2" y="1841.9">17</text><text class="ld tw" x="959.6" y="1841.9">12</text><text class="ld tw" x="1010" y="1841.9">2</text><text class="ld tw" x="1060.4" y="1841.9">6</text><text class="ld tw" x="1110.8" y="1841.9">12</text><text class="ld tw" x="1161.2" y="1841.9">4</text><text class="ld tw" x="1211.6" y="1841.9">10</text>
<text class="ld tw" x="934.4" y="1869.6">14</text><text class="ld tw" x="984.8" y="1869.6">3</text><text class="ld tw" x="1035.2" y="1869.6">20</text><text class="ld tw" x="1085.6" y="1869.6">7</text><text class="ld tw" x="1136" y="1869.6">6</text><text class="ld tw" x="1186.4" y="1869.6">16</text>
<text class="ld tw" x="959.6" y="1897.4">5</text><text class="ld tw" x="1010" y="1897.4">1</text><text class="ld tw" x="1060.4" y="1897.4">5</text><text class="ld tw" x="1110.8" y="1897.4">0</text><text class="ld tw" x="1161.2" y="1897.4">22</text>
<text class="ld tw" x="984.8" y="1925.1">13</text><text class="ld tw" x="1035.2" y="1925.1">7</text><text class="ld tw" x="1085.6" y="1925.1">3</text><text class="ld tw" x="1136" y="1925.1">4</text>
<text class="ld tw" x="1010" y="1952.9">1</text><text class="ld tw" x="1060.4" y="1952.9">7</text><text class="ld tw" x="1110.8" y="1952.9">7</text>
<text class="ld tw" x="1035.2" y="1980.7">4</text><text class="ld tw" x="1085.6" y="1980.7">27</text>
<text class="ld tw" x="1060.4" y="2008.4">4</text>
</g>
<g id="ld-blocks" fill="none" stroke="#000" stroke-width="3" stroke-linejoin="miter">
<path d="M605,1530 L605,1493.5 L959.6,1493.5 L959.6,1531.5 L783.2,1726.3 Z"/>
<path d="M959.6,1531.5 L959.6,1493.5 L1465.4,1493.5 L1465.4,1530 L1211.6,1809.6 Z"/>
</g>
</svg>
